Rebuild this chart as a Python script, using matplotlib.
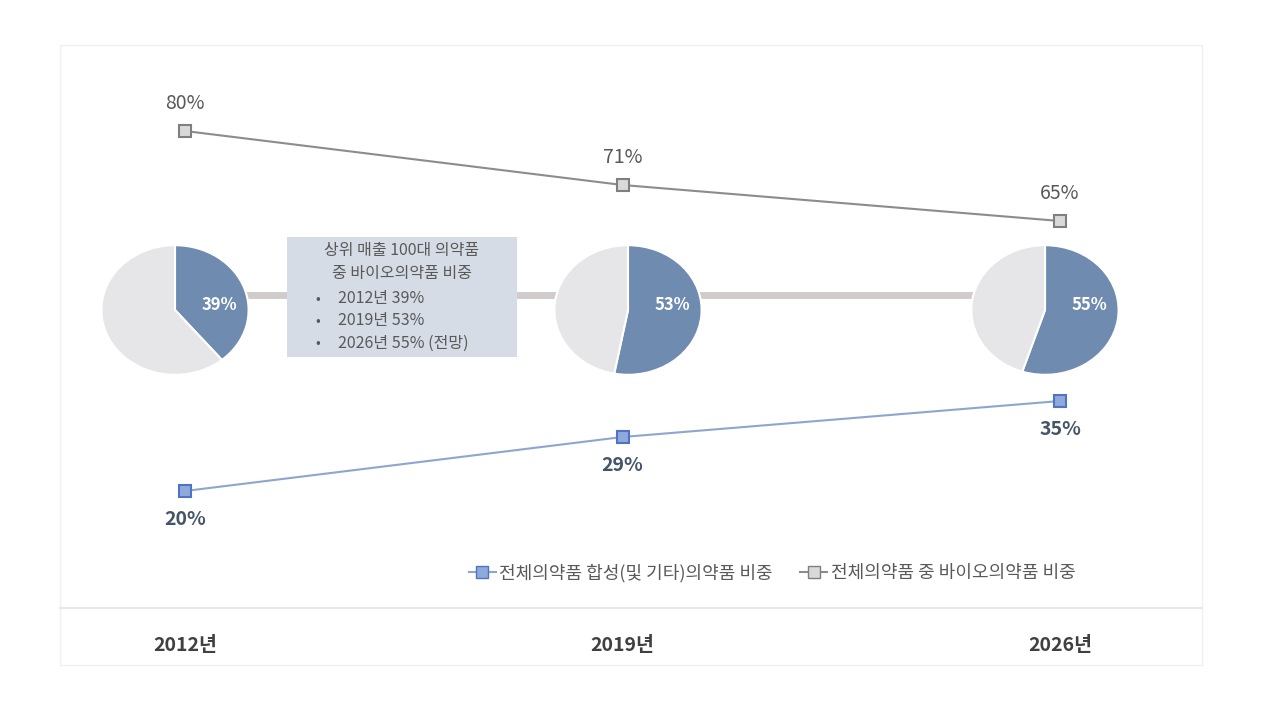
import matplotlib.pyplot as plt
import matplotlib.patches as mpatches

plt.rcParams['font.family'] = ['Noto Sans CJK KR', 'DejaVu Sans']

years = [2012, 2019, 2026]
year_labels = ['2012년', '2019년', '2026년']
bio_share = [80, 71, 65]        # 전체의약품 중 바이오의약품 비중
synth_share = [20, 29, 35]      # 합성(및 기타)의약품 비중
top100_bio = [39, 53, 55]       # 상위 매출 100대 의약품 중 바이오 비중

blue = '#6f8bb0'
light = '#e6e5e7'

W, H = 1280, 720
fig = plt.figure(figsize=(12.8, 7.2), dpi=100)

def px(x0, y0, w, h):
    return [x0 / W, 1 - (y0 + h) / H, w / W, h / H]

# frame
bg = fig.add_axes([0, 0, 1, 1])
bg.set_xlim(0, W); bg.set_ylim(H, 0); bg.axis('off')
bg.add_patch(mpatches.Rectangle((60, 45), 1142, 620, fill=False, ec='#f0f0f0', lw=1))
bg.plot([60, 1202], [608, 608], color='#e8e8e8', lw=1.5)
bg.plot([175, 1045], [295, 295], color='#d0cccc', lw=5, zorder=1)

# lines
ax = fig.add_axes(px(0, 11, W, 600), facecolor='none')
ax.set_xlim(2012 - 185 / 62.5, 2012 + 1095 / 62.5)
ax.set_ylim(0, 100)
ax.axis('off')
ax.plot(years, bio_share, color='#8c8c8c', lw=1.5, marker='s', ms=9,
        mfc='#d9d9d9', mec='#7f7f7f', mew=1.5)
ax.plot(years, synth_share, color='#8ea6cf', lw=1.5, marker='s', ms=9,
        mfc='#8fa9dc', mec='#4f74c4', mew=1.5)
for x, v in zip(years, bio_share):
    ax.annotate(f'{v}%', (x, v), xytext=(0, 12), textcoords='offset points',
                ha='center', va='bottom', fontsize=14, color='#595959')
for x, v in zip(years, synth_share):
    ax.annotate(f'{v}%', (x, v), xytext=(0, -14), textcoords='offset points',
                ha='center', va='top', fontsize=14, color='#44546a', fontweight='bold')
for x, lab in zip(years, year_labels):
    ax.text(x, -5.7, lab, ha='center', va='center', fontsize=14,
            color='#404040', fontweight='bold')

# pies
centers = [(175, 310), (628, 310), (1045, 310)]
for (cx, cy), v in zip(centers, top100_bio):
    pa = fig.add_axes(px(cx - 92, cy - 81, 184, 162))
    pa.pie([v, 100 - v], colors=[blue, light], startangle=90, counterclock=False,
           wedgeprops=dict(ec='white', lw=1.5))
    pa.set_aspect('auto')
    pa.text(0.6, 0.08, f'{v}%', ha='center', va='center', color='white',
            fontsize=12, fontweight='bold')

# text box
bg.add_patch(mpatches.Rectangle((287, 237), 230, 120, fc='#d6dce5', ec='none', zorder=3))
bg.text(402, 262, '상위 매출 100대 의약품\n중 바이오의약품 비중', ha='center', va='center',
        fontsize=11.5, color='#595959', linespacing=1.4, zorder=4)
for i, t in enumerate(['2012년 39%', '2019년 53%', '2026년 55% (전망)']):
    bg.text(318, 299 + i * 22, '•', ha='center', va='center', fontsize=10, color='#595959', zorder=4)
    bg.text(338, 299 + i * 22, t, ha='left', va='center', fontsize=11.5, color='#595959', zorder=4)

# legend
h1, = bg.plot([], [], color='#8ea6cf', marker='s', ms=8, mfc='#8fa9dc', mec='#4f74c4', lw=1.5)
h2, = bg.plot([], [], color='#8c8c8c', marker='s', ms=8, mfc='#d9d9d9', mec='#7f7f7f', lw=1.5)
fig.legend([h1, h2], ['전체의약품 합성(및 기타)의약품 비중', '전체의약품 중 바이오의약품 비중'],
           loc='center', bbox_to_anchor=(772 / W, 1 - 573 / H), ncol=2, frameon=False,
           fontsize=13, labelcolor='#595959', handlelength=1.5, handletextpad=0.2,
           columnspacing=1.5)

fig.savefig('out.png', dpi=100)
